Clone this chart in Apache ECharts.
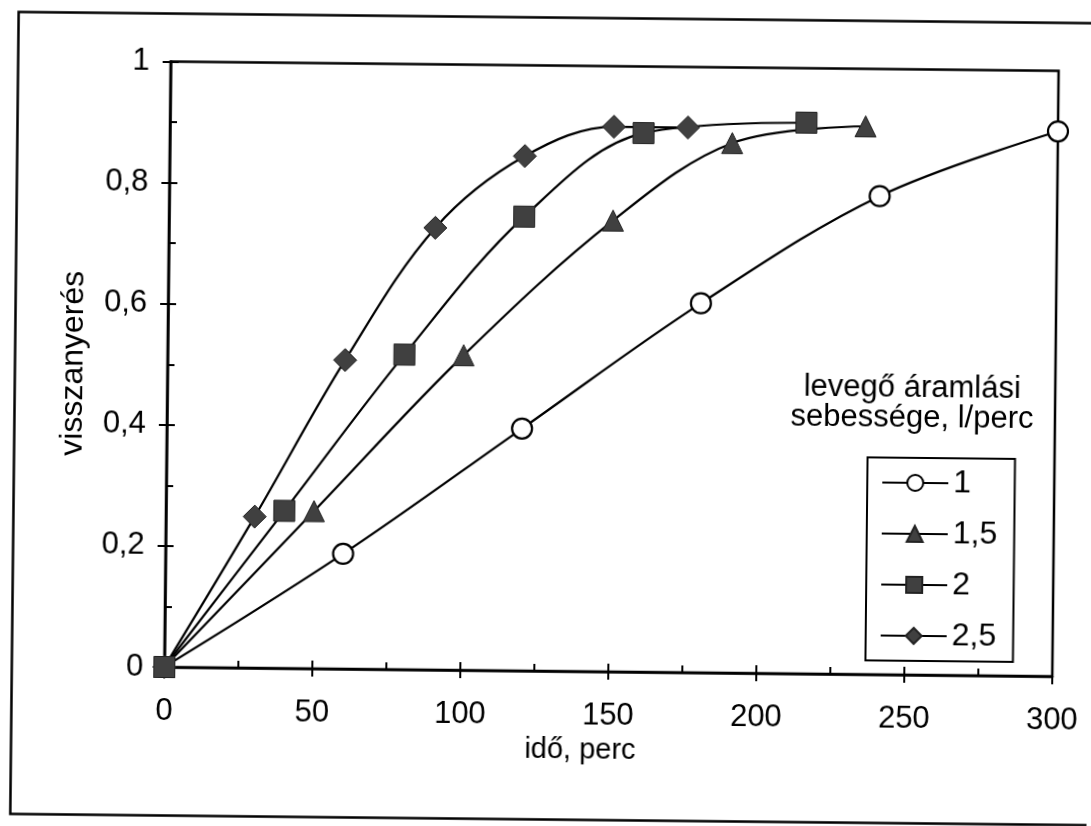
<!DOCTYPE html>
<html>
<head>
<meta charset="utf-8">
<script src="https://cdn.jsdelivr.net/npm/echarts@6/dist/echarts.min.js"></script>
<style>
  html, body { margin: 0; padding: 0; background: #fff; overflow: hidden; }
  #chart { width: 1091px; height: 826px; transform: rotate(0.6deg); transform-origin: 50% 50%; }
</style>
</head>
<body>
<div id="chart"></div>
<script>
// idő (perc) and visszanyerés readings for each air flow rate (l/perc)
const seriesNames = ['1', '1,5', '2', '2,5'];

const flow1X = [0, 60, 120, 180, 240, 300];
const flow1Y = [0, 0.19, 0.40, 0.61, 0.79, 0.90];

const flow15X = [0, 50, 100, 150, 190, 235];
const flow15Y = [0, 0.26, 0.52, 0.745, 0.875, 0.905];

const flow2X = [0, 40, 80, 120, 160, 215];
const flow2Y = [0, 0.26, 0.52, 0.75, 0.89, 0.91];

const flow25X = [0, 30, 60, 90, 120, 150, 175];
const flow25Y = [0, 0.25, 0.51, 0.73, 0.85, 0.90, 0.90];

const xTicks = { min: 0, max: 300, step: 50 };
const yTicks = { min: 0, max: 1, step: 0.2 };

const FONT = '"Liberation Sans", Arial, sans-serif';
const INK = '#000';
const MARK_FILL = '#404040';
const SYMBOL_SIZE = { circle: 20, triangle: 21, rect: 21, diamond: 23 };

function pairs(xs, ys) { return xs.map((x, i) => [x, ys[i]]); }

function lineSeries(name, xs, ys, symbol, filled) {
  return {
    name: name,
    type: 'line',
    data: pairs(xs, ys),
    smooth: 0.35,
    symbol: symbol,
    symbolSize: SYMBOL_SIZE[symbol],
    showAllSymbol: true,
    lineStyle: { color: INK, width: 2.2 },
    itemStyle: filled
      ? { color: MARK_FILL, borderColor: '#222', borderWidth: 1 }
      : { color: '#fff', borderColor: INK, borderWidth: 2.2 },
    emphasis: { disabled: true },
    animation: false
  };
}

const commaFmt = v => String(Math.round(v * 10) / 10).replace('.', ',');

const chart = echarts.init(document.getElementById('chart'), null, { renderer: 'canvas' });

chart.setOption({
  backgroundColor: '#fff',
  animation: false,
  grid: {
    left: 167, top: 65.5, width: 888, height: 605.5,
    show: true, borderColor: INK, borderWidth: 2.5, backgroundColor: 'transparent'
  },
  xAxis: [
    {
      type: 'value', min: xTicks.min, max: xTicks.max, interval: xTicks.step,
      name: 'idő, perc', nameLocation: 'middle', nameGap: 57,
      nameTextStyle: { fontFamily: FONT, fontSize: 29, color: INK, padding: [0, 55, 0, 0] },
      axisLine: { show: true, onZero: false, lineStyle: { color: INK, width: 2.5 } },
      axisTick: { show: true, inside: true, length: 8, lineStyle: { color: INK, width: 2 } },
      minorTick: { show: true, splitNumber: 2, length: 7, lineStyle: { color: INK, width: 2 } },
      splitLine: { show: false },
      axisLabel: { fontFamily: FONT, fontSize: 31, color: INK, margin: 29 }
    },
    {
      type: 'value', min: xTicks.min, max: xTicks.max, interval: xTicks.step,
      position: 'bottom',
      axisLine: { show: false },
      axisTick: { show: true, inside: false, length: 8, lineStyle: { color: INK, width: 2 } },
      splitLine: { show: false },
      axisLabel: { show: false }
    }
  ],
  yAxis: [
    {
      type: 'value', min: yTicks.min, max: yTicks.max, interval: yTicks.step,
      name: 'visszanyerés', nameLocation: 'middle', nameGap: 78,
      nameTextStyle: { fontFamily: FONT, fontSize: 32, color: INK },
      axisLine: { show: true, onZero: false, lineStyle: { color: INK, width: 2.5 } },
      axisTick: { show: true, inside: true, length: 8, lineStyle: { color: INK, width: 2 } },
      minorTick: { show: true, splitNumber: 2, length: 7, lineStyle: { color: INK, width: 2 } },
      splitLine: { show: false },
      axisLabel: { fontFamily: FONT, fontSize: 31, color: INK, margin: 21, formatter: commaFmt }
    },
    {
      type: 'value', min: yTicks.min, max: yTicks.max, interval: yTicks.step,
      position: 'left', offset: 0,
      axisLine: { show: false },
      axisTick: { show: true, inside: false, length: 8, lineStyle: { color: INK, width: 2 } },
      splitLine: { show: false },
      axisLabel: { show: false }
    }
  ],
  legend: {
    data: seriesNames,
    orient: 'vertical',
    left: 868, top: 454,
    padding: [9, 17, 9, 14],
    itemWidth: 66, itemHeight: 20, itemGap: 19,
    borderColor: INK, borderWidth: 2, borderRadius: 0,
    backgroundColor: '#fff',
    selectedMode: false,
    textStyle: { fontFamily: FONT, fontSize: 32, color: INK, lineHeight: 29 }
  },
  graphic: [
    {
      type: 'rect', silent: true, z: -1,
      shape: { x: 14.5, y: 17.5, width: 1100, height: 802 },
      style: { fill: 'none', stroke: INK, lineWidth: 2.5 }
    },
    {
      type: 'text', silent: true,
      x: 912, y: 369,
      style: {
        text: 'levegő áramlási\nsebessége, l/perc',
        fontFamily: FONT, fontSize: 31, lineHeight: 30,
        fill: INK, align: 'center', verticalAlign: 'top'
      }
    }
  ],
  series: [
    lineSeries('1', flow1X, flow1Y, 'circle', false),
    lineSeries('1,5', flow15X, flow15Y, 'triangle', true),
    lineSeries('2,5', flow25X, flow25Y, 'diamond', true),
    lineSeries('2', flow2X, flow2Y, 'rect', true)
  ]
});
</script>
</body>
</html>
